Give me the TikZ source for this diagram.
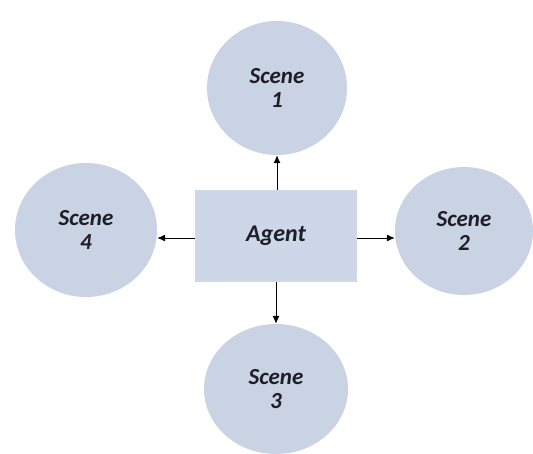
\documentclass[tikz,border=0pt]{standalone}
\usepackage{fontspec}
\setmainfont{Carlito}
\usetikzlibrary{shapes.geometric,arrows.meta}
\definecolor{scenefill}{RGB}{201,211,227}
\definecolor{agentfill}{RGB}{205,215,232}
\definecolor{labeltext}{RGB}{30,30,38}
\tikzset{
  scene/.style={ellipse, fill=scenefill, draw=none, inner sep=0pt, align=center, text=labeltext,
    font=\fontsize{23}{24}\selectfont\bfseries\itshape},
  agentbox/.style={rectangle, fill=agentfill, draw=none, minimum width=162pt, minimum height=92pt,
    text=labeltext, font=\fontsize{24}{26}\selectfont\bfseries\itshape},
  link/.style={line width=1pt, -{Latex[length=8pt,width=7pt]}}
}
\begin{document}
\begin{tikzpicture}[x=1pt,y=-1pt]
  \useasboundingbox (0,0) rectangle (533,453);
  \node[agentbox] (agent) at (276,236) {Agent};
  \node[scene, minimum width=140pt, minimum height=134pt] (s1) at (277,88) {Scene\\1};
  \node[scene, minimum width=138pt, minimum height=128pt] (s2) at (464,231) {Scene\\2};
  \node[scene, minimum width=144pt, minimum height=130pt] (s3) at (276,389) {Scene\\3};
  \node[scene, minimum width=142pt, minimum height=134pt] (s4) at (86,230) {Scene\\4};
  \draw[link] (agent.north -| s1) -- (s1.south);
  \draw[link] ([yshift=-2pt]agent.east) -- ([yshift=-2pt]agent.east -| s2.west);
  \draw[link] (agent.south) -- (s3.north);
  \draw[link] ([yshift=-2pt]agent.west) -- ([yshift=-2pt]agent.west -| s4.east);
\end{tikzpicture}
\end{document}
